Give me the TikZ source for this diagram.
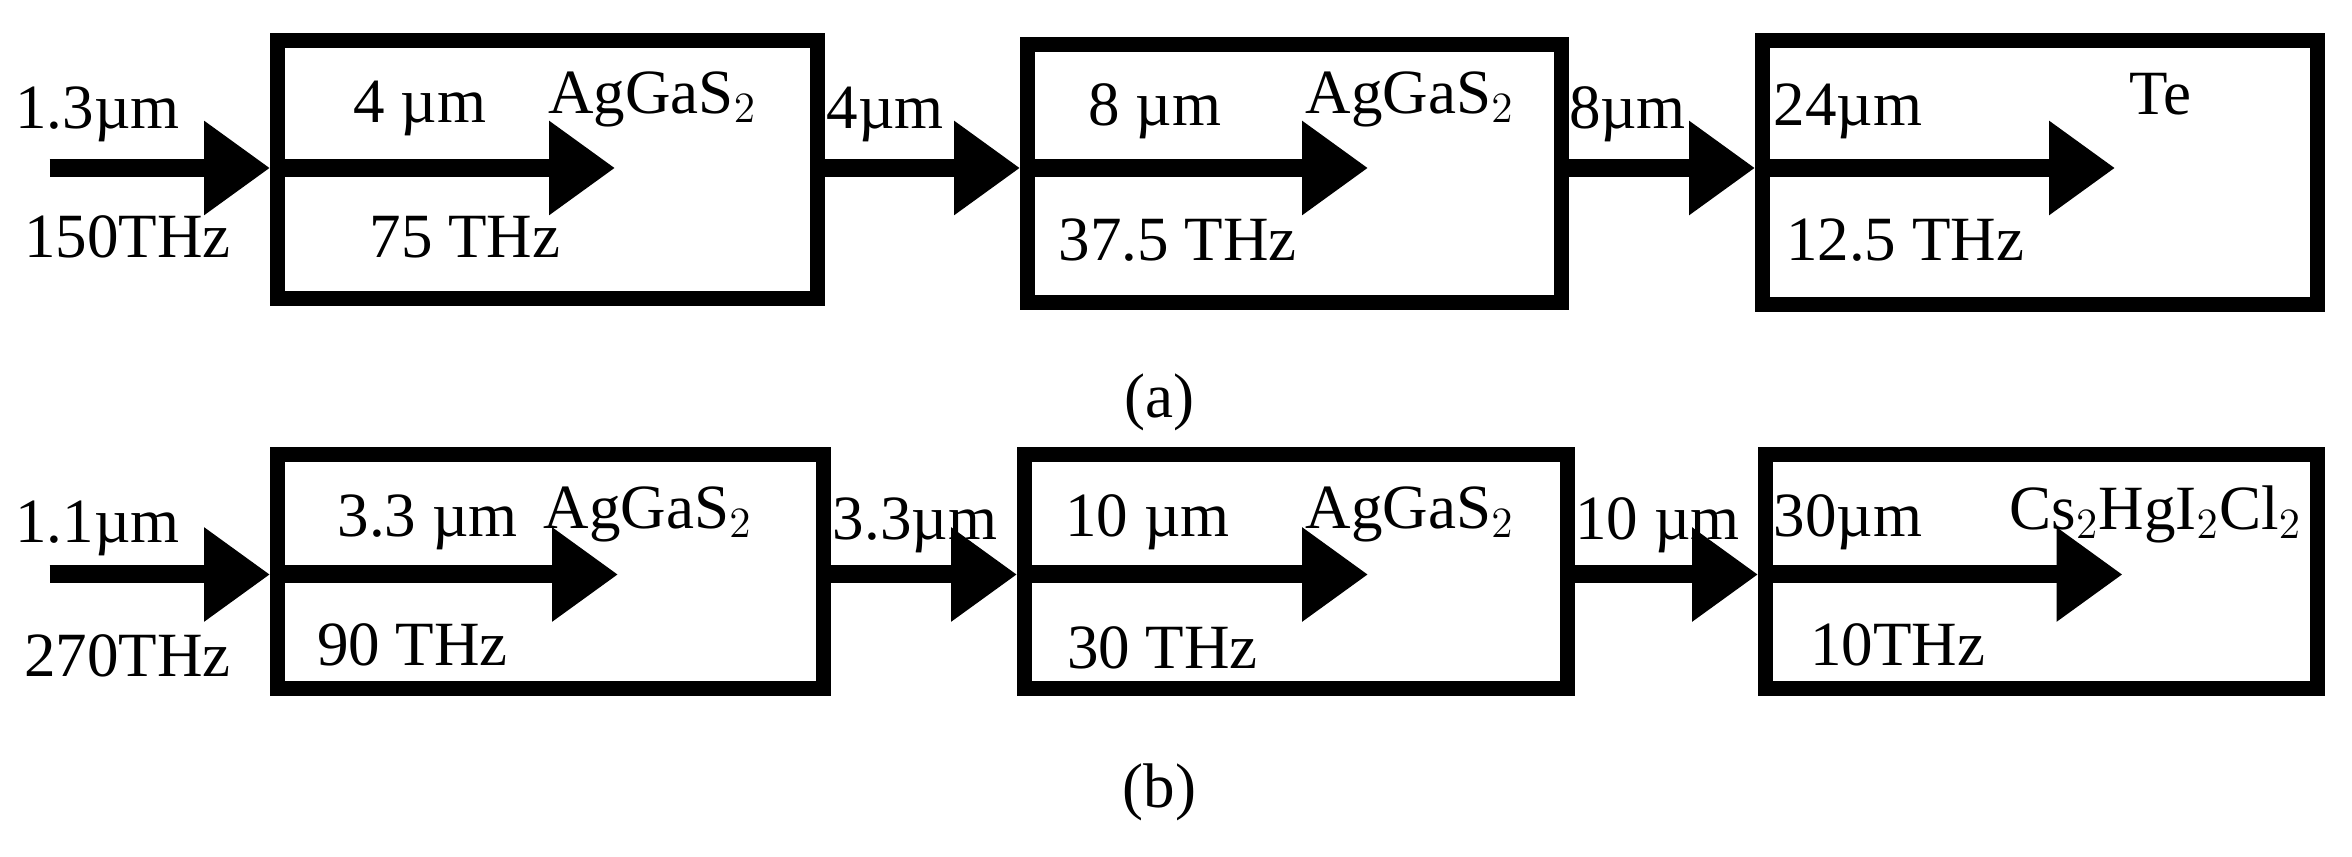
\documentclass[tikz,border=0pt]{standalone}
\usepackage{fontspec}
\setmainfont{Liberation Serif}
\usetikzlibrary{arrows.meta, positioning}
\tikzset{
    >={Triangle[length=22pt,width=30pt]},
    crystal/.style={draw, line width=5pt, anchor=north west, inner sep=0pt},
    beam/.style={->, line width=6pt, shorten <=0pt},
    lbl/.style={font=\fontsize{21}{21}\selectfont, inner sep=0pt}
}
\begin{document}
\begin{tikzpicture}[x=0.5pt, y=-0.5pt]
\useasboundingbox (0,0) rectangle (1568,571);
% row (a)
\node[crystal, minimum width=180pt, minimum height=86pt] (a1) at (180,22) {};
\node[crystal, minimum width=178pt, minimum height=86pt] (a2) at (680,25) {};
\node[crystal, minimum width=185pt, minimum height=88pt] (a3) at (1170,22) {};
\coordinate (ain) at (33,112);
\coordinate (a1o) at (410,112);
\coordinate (a2o) at (912,112);
\coordinate (a3o) at (1410,112);
\draw[beam] (ain) -- (a1.west |- ain);
\draw[beam] (a1.west |- ain) -- (a1o);
\draw[beam] (a1.east |- ain) -- (a2.west |- ain);
\draw[beam] (a2.west |- ain) -- (a2o);
\draw[beam] (a2.east |- ain) -- (a3.west |- ain);
\draw[beam] (a3.west |- ain) -- (a3o);
\node[lbl] (la0) at (65,76) {1.3\textmu m};
\node[lbl] (fa0) at (85,158) {150THz};
\node[lbl] (la1) at (280,72) {4 \textmu m};
\node[lbl] (ma1) at (435,66) {AgGaS$_2$};
\node[lbl] (fa1) at (310,158) {75 THz};
\node[lbl] (la2) at (590,76) {4\textmu m};
\node[lbl] (la3) at (770,74) {8 \textmu m};
\node[lbl] (ma2) at (940,66) {AgGaS$_2$};
\node[lbl] (fa2) at (785,160) {37.5 THz};
\node[lbl] (la4) at (1085,76) {8\textmu m};
\node[lbl] (la5) at (1232,74) {24\textmu m};
\node[lbl] (ma3) at (1440,63) {Te};
\node[lbl] (fa3) at (1270,160) {12.5 THz};
\node[lbl] (capa) at (773,268) {(a)};
% row (b)
\node[crystal, minimum width=182pt, minimum height=78pt] (b1) at (180,298) {};
\node[crystal, minimum width=181pt, minimum height=78pt] (b2) at (678,298) {};
\node[crystal, minimum width=184pt, minimum height=78pt] (b3) at (1172,298) {};
\coordinate (bin) at (33,383);
\coordinate (b1o) at (412,383);
\coordinate (b2o) at (912,383);
\coordinate (b3o) at (1415,383);
\draw[beam] (bin) -- (b1.west |- bin);
\draw[beam] (b1.west |- bin) -- (b1o);
\draw[beam] (b1.east |- bin) -- (b2.west |- bin);
\draw[beam] (b2.west |- bin) -- (b2o);
\draw[beam] (b2.east |- bin) -- (b3.west |- bin);
\draw[beam] (b3.west |- bin) -- (b3o);
\node[lbl] (lb0) at (65,352) {1.1\textmu m};
\node[lbl] (fb0) at (85,437) {270THz};
\node[lbl] (lb1) at (285,348) {3.3 \textmu m};
\node[lbl] (mb1) at (432,343) {AgGaS$_2$};
\node[lbl] (fb1) at (275,430) {90 THz};
\node[lbl] (lb2) at (610,350) {3.3\textmu m};
\node[lbl] (lb3) at (765,348) {10 \textmu m};
\node[lbl] (mb2) at (940,343) {AgGaS$_2$};
\node[lbl] (fb2) at (775,432) {30 THz};
\node[lbl] (lb4) at (1105,350) {10 \textmu m};
\node[lbl] (lb5) at (1232,348) {30\textmu m};
\node[lbl] (mb3) at (1437,343) {Cs$_2$HgI$_2$Cl$_2$};
\node[lbl] (fb3) at (1265,430) {10THz};
\node[lbl] (capb) at (773,528) {(b)};
\end{tikzpicture}
\end{document}
